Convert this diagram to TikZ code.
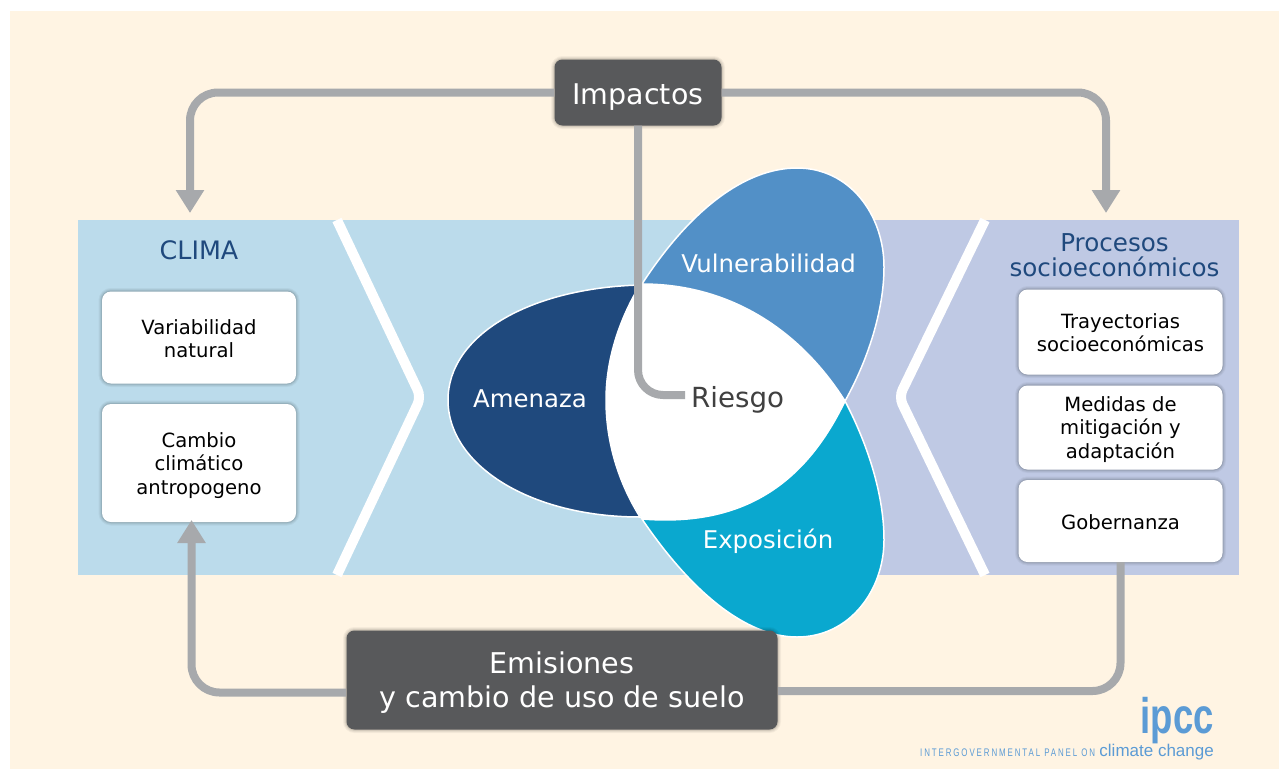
\documentclass[tikz,border=0pt]{standalone}
\usepackage{fontspec}
\setmainfont{DejaVu Sans}
\newfontfamily\logofont{Liberation Sans}
\usetikzlibrary{arrows.meta}
\definecolor{crema}{HTML}{FFF4E3}
\definecolor{celeste}{HTML}{BBDBEB}
\definecolor{lavanda}{HTML}{BFC9E4}
\definecolor{grisflujo}{HTML}{A7A9AC}
\definecolor{grisoscuro}{HTML}{58595B}
\definecolor{azulamenaza}{HTML}{1F497D}
\definecolor{azulvulne}{HTML}{5290C7}
\definecolor{azulexpo}{HTML}{0AA8CF}
\definecolor{azullogo}{HTML}{5B9BD5}
\newcommand{\fsize}[2]{\fontsize{#1}{#2}\selectfont}
\newcommand{\alto}[1]{\rule{0pt}{#1}}
\tikzset{
	sombra/.style={preaction={draw=black,opacity=.04,line width=7pt},preaction={draw=black,opacity=.05,line width=5pt},preaction={draw=black,opacity=.06,line width=3pt},preaction={draw=black,opacity=.08,line width=1.5pt}},
	flujo/.style={draw=grisflujo,line width=8pt,rounded corners=28pt,line join=round},
	flecha/.style={flujo,-{Triangle[length=23pt,width=27pt]}},
	caja/.style={sombra,fill=white,rounded corners=9pt,inner sep=0pt,align=center,font=\fsize{19.6}{23.5}},
	oscura/.style={sombra,fill=grisoscuro,text=white,rounded corners=8pt,inner sep=0pt,align=center},
	petalo/.style={draw=white,line width=1.5pt},
	rotulo/.style={text=white,inner sep=0pt,font=\fsize{24.4}{28}}
}
\begin{document}
\begin{tikzpicture}[x=1pt,y=-1pt]
	\useasboundingbox (0,0) rectangle (1279,769);
	\fill[crema] (10,11) rectangle (1279,769);
	% bandas
	\fill[celeste] (78,220) rectangle (800,575);
	\fill[lavanda] (800,220) rectangle (1239,575);
	\draw[white,line width=10pt,rounded corners=8pt] (337,220)--(421,397)--(337,575);
	\draw[white,line width=10pt,rounded corners=8pt] (985,220)--(899,397)--(985,575);
	% petalos
	\draw[petalo,fill=azulvulne] (642,284) .. controls (690,210) and (745,168) .. (797,168)
		.. controls (850,168) and (884,215) .. (884,267) .. controls (884,310) and (868,360) .. (845,401)
		.. controls (800,330) and (730,284) .. (642,284)--cycle;
	\draw[petalo,fill=azulexpo] (642,519) .. controls (690,590) and (745,637) .. (797,637)
		.. controls (850,637) and (884,590) .. (884,540) .. controls (884,495) and (868,445) .. (845,401)
		.. controls (800,495) and (731,526) .. (642,519)--cycle;
	\draw[petalo,fill=azulamenaza] (640,285) .. controls (530,288) and (448,335) .. (448,400)
		.. controls (448,465) and (530,517) .. (640,517) .. controls (620,485) and (606,445) .. (606,400)
		.. controls (606,358) and (620,318) .. (640,285)--cycle;
	\fill[white] (640,284) .. controls (730,284) and (800,330) .. (845,401)
		.. controls (800,495) and (731,526) .. (642,519) .. controls (620,485) and (606,445) .. (606,400)
		.. controls (606,358) and (620,318) .. (640,284)--cycle;
	% nodos
	\node[oscura,minimum width=167pt,minimum height=66pt,font=\fsize{28.5}{34}] (impactos) at (638,92.5) {\alto{29pt}Impactos};
	\node[oscura,minimum width=431pt,minimum height=99pt,font=\fsize{28.6}{34}] (emisiones) at (562,680) {\alto{27pt}Emisiones\\y cambio de uso de suelo};
	\node[inner sep=0pt,text=azulamenaza,font=\fsize{25.4}{30}] (clima) at (199,250) {CLIMA};
	\node[inner sep=0pt,align=center,text=azulamenaza,font=\fsize{24.6}{25}] (procesos) at (1114.5,255) {Procesos\\socioeconómicos};
	\node[caja,minimum width=194pt,minimum height=92pt] (variabilidad) at (199,337.5) {\alto{17pt}Variabilidad\\natural};
	\node[caja,minimum width=194pt,minimum height=118pt] (cambio) at (199,463) {\alto{20pt}Cambio\\climático\\antropogeno};
	\node[caja,minimum width=204pt,minimum height=85pt] (trayectorias) at (1120.5,332) {\alto{16pt}Trayectorias\\socioeconómicas};
	\node[caja,minimum width=204pt,minimum height=84pt] (medidas) at (1120.5,427.5) {\alto{19pt}Medidas de\\mitigación y\\adaptación};
	\node[caja,minimum width=204pt,minimum height=82pt] (gobernanza) at (1120.5,521) {\alto{18pt}Gobernanza};
	\node[rotulo] (amenaza) at (530,399) {Amenaza};
	\node[rotulo] (vulnerabilidad) at (768.5,263) {Vulnerabilidad};
	\node[rotulo] (exposicion) at (768,541) {Exposición};
	\node[inner sep=0pt,anchor=west,text=black!75,font=\fsize{27.7}{30}] (riesgo) at (691,400) {Riesgo};
	% logo
	\node[inner sep=0pt,anchor=base east,text=azullogo,xscale=.73,font=\logofont\bfseries\fsize{50}{50}] (ipcc) at (1214,733) {ipcc};
	\node[inner sep=0pt,anchor=base east,text=azullogo,font=\logofont\fsize{17}{17}] (cambioclimatico) at (1214,756) {climate change};
	\node[inner sep=0pt,anchor=base west,text=azullogo,xscale=.72,font=\logofont\fsize{11}{11}\addfontfeature{LetterSpace=24}] (panel) at (920,756) {INTERGOVERNMENTAL PANEL ON};
	% puntos de llegada
	\coordinate (llegaclima) at (190,213);
	\coordinate (llegaprocesos) at (1106,213);
	\coordinate (llegacambio) at (191.5,520);
	\coordinate (salidaizq) at (346,692.5);
	\coordinate (salidader) at (778,691);
	% conectores
	\draw[flecha] (impactos.west)-|(llegaclima);
	\draw[flecha] (impactos.east)-|(llegaprocesos);
	\draw[flecha] (salidaizq)-|(llegacambio);
	\draw[flujo] (gobernanza.south)|-(salidader);
	\draw[flujo,rounded corners=25pt] (impactos.south)|-([xshift=-6pt,yshift=5pt]riesgo.west);
\end{tikzpicture}
\end{document}
